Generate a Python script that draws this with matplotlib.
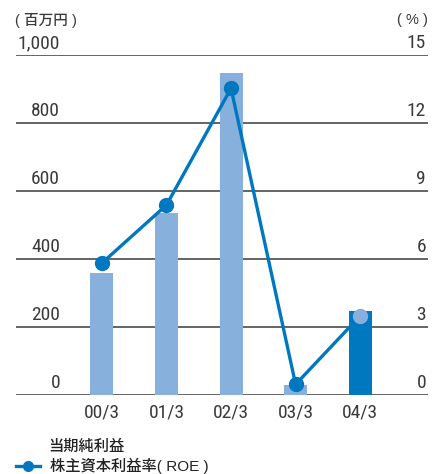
import matplotlib
matplotlib.use("Agg")
import matplotlib.pyplot as plt

categories = ["00/3", "01/3", "02/3", "03/3", "04/3"]
net_income = [359, 535, 947, 29, 247]          # 百万円
roe = [5.82, 8.38, 13.53, 0.47, 3.49]          # %
left_ticks = [0, 200, 400, 600, 800, 1000]
left_labels = ["0", "200", "400", "600", "800", "1,000"]
right_labels = ["0", "3", "6", "9", "12", "15"]

num_font = ["Roboto Condensed", "DejaVu Sans"]
cjk = ["Noto Sans CJK JP", "DejaVu Sans"]
mixed = ["Liberation Sans", "Noto Sans CJK JP", "DejaVu Sans"]

LIGHT = "#88b0dd"
DARK = "#0078c0"
GRID = "#4a4a4a"
TXT = "#3a3a3a"

W, H = 434, 474
fig = plt.figure(figsize=(W / 100, H / 100), dpi=100)
ax = fig.add_axes([16/W, 79/H, 412/W, 340/H])
ax2 = ax.twinx()

x = list(range(len(categories)))
colors = [LIGHT] * (len(categories) - 1) + [DARK]
ax.bar(x, net_income, width=0.356, color=colors, zorder=3)
for t in left_ticks:
    ax.axhline(t, color=GRID, lw=1.2, zorder=1)
ax.set_ylim(0, 1000)
ax.set_xlim(-1.33, 5.05)
ax2.set_ylim(0, 15)

ax2.plot(x, roe, color=DARK, lw=2.4, zorder=4)
ax2.plot(x[:-1], roe[:-1], "o", color=DARK, ms=10, zorder=5)
ax2.plot(x[-1:], roe[-1:], "o", color=LIGHT, ms=10, mec=LIGHT, zorder=5)

for a in (ax, ax2):
    for s in a.spines.values():
        s.set_visible(False)
    a.set_yticks([])
    a.tick_params(length=0)
ax.set_xticks(x)
ax.set_xticklabels(categories, fontsize=14, family=num_font, color=TXT)
ax.tick_params(axis="x", pad=6)

for t, lab in zip(left_ticks, left_labels):
    fig.text(60/W, (79 + t * 0.34 + 6.5) / H, lab, ha="right", va="baseline",
             fontsize=14, family=num_font, color=TXT)
for t, lab in zip(left_ticks, right_labels):
    fig.text(426/W, (79 + t * 0.34 + 6.5) / H, lab, ha="right", va="baseline",
             fontsize=14, family=num_font, color=TXT)

fig.text(15/W, 1 - 20/H, "( 百万円 )", ha="left", va="center",
         fontsize=10.5, family=mixed, color=TXT, weight="medium")
fig.text(428/W, 1 - 20/H, "( % )", ha="right", va="center",
         fontsize=10.5, family=mixed, color=TXT)

fig.text(48/W, 1 - 446/H, "当期純利益", ha="left", va="center",
         fontsize=11, family=cjk, color="#222222", weight="medium")
fig.text(50/W, 1 - 466/H, "株主資本利益率( ROE )", ha="left", va="center",
         fontsize=11, family=mixed, color="#222222", weight="medium")
fig.lines.append(plt.Line2D([16/W, 40/W], [1 - 466/H] * 2, transform=fig.transFigure,
                            color=DARK, lw=2.4))
fig.lines.append(plt.Line2D([28/W], [1 - 466/H], transform=fig.transFigure,
                            color=DARK, marker="o", ms=7))

fig.savefig("out.png", dpi=100)
